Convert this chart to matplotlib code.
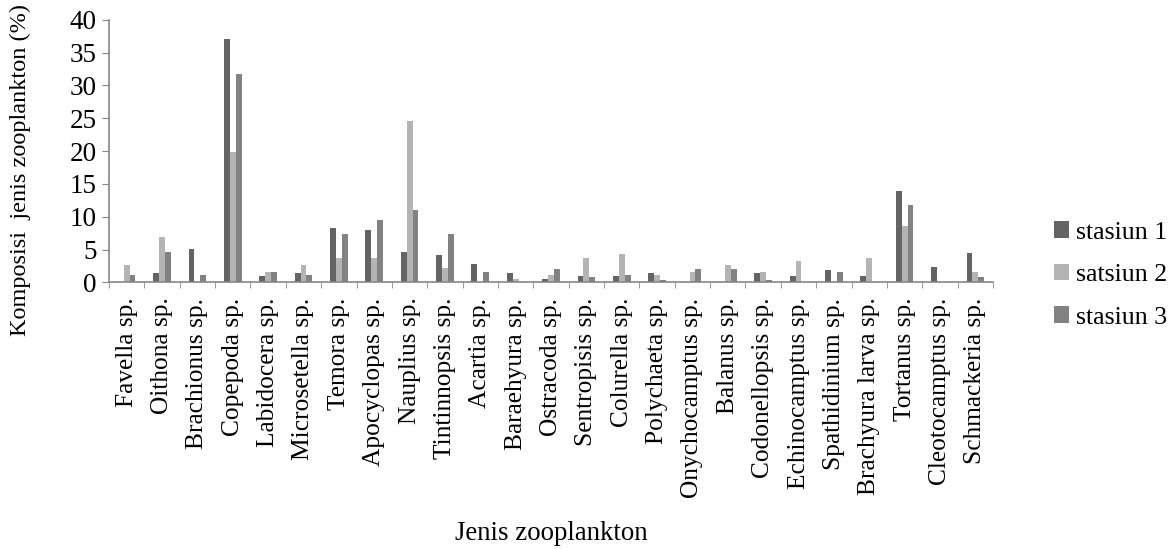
import matplotlib.pyplot as plt
import numpy as np

plt.rcParams['font.family'] = ['Liberation Serif', 'DejaVu Serif']

categories = ['Favella sp.', 'Oithona sp.', 'Brachionus sp.', 'Copepoda sp.',
              'Labidocera sp.', 'Microsetella sp.', 'Temora sp.', 'Apocyclopas sp.',
              'Nauplius sp.', 'Tintinnopsis sp.', 'Acartia sp.', 'Baraehyura sp.',
              'Ostracoda sp.', 'Sentropisis sp.', 'Colurella sp.', 'Polychaeta sp.',
              'Onychocamptus sp.', 'Balanus sp.', 'Codonellopsis sp.', 'Echinocamptus sp.',
              'Spathidinium sp.', 'Brachyura larva sp.', 'Tortanus sp.', 'Cleotocamptus sp.',
              'Schmackeria sp.']

stasiun1 = [0, 1.37, 5.08, 37.06, 0.91, 1.37, 8.32, 7.92, 4.62, 4.16, 2.79, 1.37,
            0.46, 0.96, 0.96, 1.37, 0, 0, 1.37, 0.96, 1.88, 0.96, 13.9, 2.33, 4.47]
satsiun2 = [2.64, 6.95, 0, 19.8, 1.57, 2.64, 3.76, 3.76, 24.6, 2.18, 0, 0.51,
            1.07, 3.76, 4.31, 1.12, 1.62, 2.69, 1.62, 3.25, 0, 3.76, 8.58, 0, 1.57]
stasiun3 = [1.17, 4.67, 1.17, 31.7, 1.57, 1.17, 7.41, 9.44, 10.96, 7.41, 1.57, 0,
            1.98, 0.81, 1.17, 0.41, 1.98, 1.98, 0.41, 0, 1.57, 0, 11.78, 0, 0.8]

series = [('stasiun 1', stasiun1, '#646464'),
          ('satsiun 2', satsiun2, '#b4b4b4'),
          ('stasiun 3', stasiun3, '#828282')]

fig = plt.figure(figsize=(11.76, 5.49), dpi=100)
ax = fig.add_axes([0.0927, 0.4855, 0.7517, 0.4785])

x = np.arange(len(categories))
w = 0.166
for i, (name, vals, col) in enumerate(series):
    ax.bar(x + (i - 1) * w, vals, w, color=col, label=name)

ax.set_xlim(-0.5, len(categories) - 0.5)
ax.set_ylim(0, 40)
ax.set_yticks(range(0, 41, 5))
ax.set_xticks(x)
ax.set_xticklabels(categories, rotation=90, fontsize=18.3)
ax.set_xticks(np.arange(-0.5, len(categories), 1), minor=True)
ax.tick_params(axis='x', which='major', length=0, pad=11)
ax.tick_params(axis='x', which='minor', length=4, color='#868686', direction='out')
ax.tick_params(axis='y', labelsize=19.5, length=5, color='#868686', pad=4)

for s in ['top', 'right']:
    ax.spines[s].set_visible(False)
for s in ['left', 'bottom']:
    ax.spines[s].set_color('#868686')
    ax.spines[s].set_linewidth(1.2)

fig.text(0.017, 0.69, 'Komposisi  jenis zooplankton (%)', rotation=90,
         ha='center', va='center', fontsize=17.5)
fig.text(0.469, 0.029, 'Jenis zooplankton', ha='center', va='center', fontsize=19.3)

ax.legend(loc='center left', bbox_to_anchor=(0.896, 0.499),
          bbox_transform=fig.transFigure, frameon=False, borderpad=0,
          borderaxespad=0, fontsize=18.6, handlelength=0.6, handleheight=0.6,
          handletextpad=0.25, labelspacing=0.78)

fig.savefig('out.png', dpi=100)
